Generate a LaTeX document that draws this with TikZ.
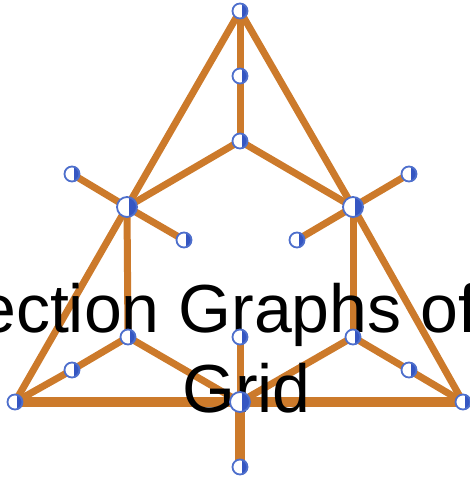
\documentclass[tikz,border=0pt]{standalone}
\usepackage{xcolor}
\usepackage{fontspec}
\setmainfont{Liberation Sans}
\usetikzlibrary{calc}
\definecolor{edgeOrange}{HTML}{CC7A2B}
\definecolor{vtxBlue}{HTML}{3556C2}
\definecolor{vtxRim}{HTML}{4E6FCC}
\pgfdeclarelayer{edgeLayer}
\pgfsetlayers{edgeLayer,main}
\tikzset{
  edge/.style={draw=edgeOrange, line width=7pt},
  thickEdge/.style={draw=edgeOrange, line width=10pt},
  vtx/.style={circle, draw=vtxRim, line width=1.8pt, fill=white, minimum size=15pt, inner sep=0pt,
    path picture={\fill[vtxBlue] ([xshift=1.5pt]path picture bounding box.north) rectangle (path picture bounding box.south east);}},
  bigVtx/.style={vtx, minimum size=20pt},
  plotLabel/.style={font=\fontsize{68}{80}\selectfont, text=black, inner sep=0pt, anchor=base west}
}

\begin{document}
\begin{tikzpicture}[x=1pt,y=-1pt]
\useasboundingbox (0,0) rectangle (470,482);
\clip (0,0) rectangle (470,482);

% --------------------------------------------------------------------------
% vertices
% --------------------------------------------------------------------------
\node[vtx] (vTop) at (240,11) {};
\node[vtx] (vTopMid) at (240,76) {};
\node[vtx] (vCore) at (240,141) {};
\node[bigVtx] (vLeft) at (127,207) {};
\node[bigVtx] (vRight) at (353,207) {};
\node[vtx] (vLeftOut) at (72,174) {};
\node[vtx] (vLeftIn) at (184,240) {};
\node[vtx] (vRightOut) at (409,174) {};
\node[vtx] (vRightIn) at (297,240) {};
\node[vtx] (vLeftLow) at (128,337) {};
\node[vtx] (vLeftSide) at (72,370) {};
\node[vtx] (vRightLow) at (353,337) {};
\node[vtx] (vRightSide) at (409,370) {};
\node[vtx] (vMidLow) at (240,337) {};
\node[vtx] (vBotLeft) at (15,402) {};
\node[vtx] (vBotRight) at (463,402) {};
\node[bigVtx] (vBotMid) at (240,402) {};
\node[vtx] (vBottom) at (240,467) {};

% --------------------------------------------------------------------------
% edges
% --------------------------------------------------------------------------
\begin{pgfonlayer}{edgeLayer}
\draw[edge] (vTop.center) -- (vTopMid.center) -- (vCore.center);
\draw[edge] (vLeft.center) -- (vCore.center) -- (vRight.center);
\draw[edge] (vBotLeft.center) -- (vLeft.center) -- (vTop.center) -- (vRight.center) -- (vBotRight.center);
\draw[edge] (vLeftOut.center) -- (vLeft.center) -- (vLeftIn.center);
\draw[edge] (vRightOut.center) -- (vRight.center) -- (vRightIn.center);
\draw[edge] (vLeft.center) -- (vLeftLow.center);
\draw[edge] (vRight.center) -- (vRightLow.center);
\draw[edge] (vBotLeft.center) -- (vLeftSide.center) -- (vLeftLow.center) -- (vBotMid.center);
\draw[edge] (vBotRight.center) -- (vRightSide.center) -- (vRightLow.center) -- (vBotMid.center);
\draw[edge] (vMidLow.center) -- (vBotMid.center);
\draw[thickEdge] (vBotLeft.center) -- (vBotMid.center) -- (vBotRight.center);
\draw[thickEdge] (vBotMid.center) -- (vBottom.center);

% label
\node[plotLabel] (titleTop) at (-22,332) {ection Graphs of};
\node[plotLabel] (titleBot) at (182,412) {Grid};
\end{pgfonlayer}

\end{tikzpicture}
\end{document}
